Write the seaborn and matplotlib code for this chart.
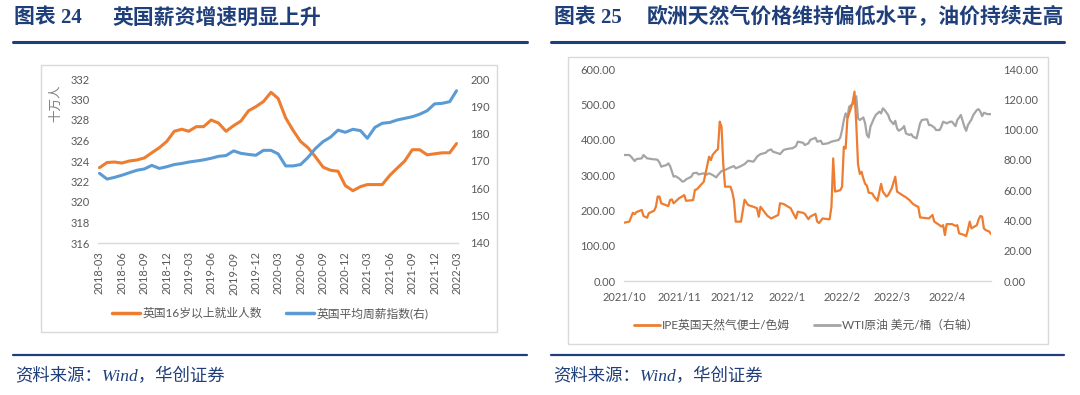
import pandas as pd
import matplotlib.pyplot as plt
import seaborn as sns
from matplotlib.lines import Line2D
from matplotlib.patches import Rectangle

# 图表24：英国就业人数 / 平均周薪指数（月度，2018-03 ~ 2022-03）
months = pd.date_range("2018-03-01", "2022-03-01", freq="MS")
employment = [323.35, 323.85, 323.9, 323.8, 324.0, 324.1, 324.3, 324.8, 325.3, 325.9,
              326.9, 327.1, 326.9, 327.35, 327.35, 328.0, 327.7, 326.9, 327.45, 327.9,
              328.9, 329.3, 329.8, 330.7, 330.1, 328.2, 327.0, 325.9, 325.3, 324.4,
              323.4, 323.1, 323.0, 321.6, 321.1, 321.5, 321.7, 321.7, 321.7, 322.6,
              323.3, 324.0, 325.1, 325.1, 324.6, 324.7, 324.8, 324.8, 325.7]
wage_index = [165.5, 163.4, 164.0, 164.8, 165.7, 166.6, 167.1, 168.4, 167.3, 167.9,
              168.7, 169.1, 169.6, 170.0, 170.4, 171.0, 171.7, 172.0, 173.7, 172.8,
              172.4, 172.1, 173.9, 173.9, 172.6, 168.2, 168.2, 168.7, 171.3, 174.6,
              177.1, 178.7, 181.3, 180.5, 181.6, 181.1, 178.3, 182.3, 183.8, 184.1,
              185.0, 185.6, 186.2, 187.1, 188.4, 190.9, 191.1, 191.7, 195.7]

# 图表25：IPE英国天然气（便士/色姆）与 WTI 原油（美元/桶）
gas_dates = ["2021-10-01", "2021-10-04", "2021-10-06", "2021-10-07", "2021-10-08", "2021-10-11",
             "2021-10-12", "2021-10-14", "2021-10-15", "2021-10-18", "2021-10-19", "2021-10-20",
             "2021-10-21", "2021-10-22", "2021-10-26", "2021-10-27", "2021-10-28", "2021-10-29",
             "2021-11-01", "2021-11-04", "2021-11-05", "2021-11-09", "2021-11-10", "2021-11-11",
             "2021-11-15", "2021-11-16", "2021-11-17", "2021-11-18", "2021-11-19", "2021-11-20",
             "2021-11-22", "2021-11-23", "2021-11-24", "2021-11-25", "2021-11-26", "2021-11-27",
             "2021-11-30", "2021-12-01", "2021-12-02", "2021-12-03", "2021-12-06", "2021-12-07",
             "2021-12-08", "2021-12-10", "2021-12-13", "2021-12-15", "2021-12-16", "2021-12-17",
             "2021-12-20", "2021-12-21", "2021-12-23", "2021-12-27", "2021-12-28", "2021-12-30",
             "2021-12-31", "2022-01-03", "2022-01-04", "2022-01-06", "2022-01-07", "2022-01-10",
             "2022-01-11", "2022-01-13", "2022-01-14", "2022-01-17", "2022-01-18", "2022-01-19",
             "2022-01-21", "2022-01-24", "2022-01-25", "2022-01-26", "2022-01-27", "2022-01-28",
             "2022-01-31", "2022-02-01", "2022-02-02", "2022-02-03", "2022-02-04", "2022-02-07",
             "2022-02-08", "2022-02-09", "2022-02-10", "2022-02-11", "2022-02-12", "2022-02-13",
             "2022-02-14", "2022-02-15", "2022-02-16", "2022-02-18", "2022-02-19", "2022-02-21",
             "2022-02-23", "2022-02-24", "2022-02-26", "2022-02-27", "2022-03-01", "2022-03-03",
             "2022-03-04", "2022-03-07", "2022-03-09", "2022-03-11", "2022-03-13", "2022-03-15",
             "2022-03-16", "2022-03-17", "2022-03-22", "2022-03-24", "2022-03-25", "2022-03-28",
             "2022-03-29", "2022-03-30", "2022-03-31", "2022-04-01", "2022-04-04", "2022-04-06",
             "2022-04-07", "2022-04-08", "2022-04-11", "2022-04-12", "2022-04-13", "2022-04-14",
             "2022-04-15", "2022-04-18", "2022-04-19", "2022-04-20", "2022-04-21", "2022-04-22",
             "2022-04-23", "2022-04-25", "2022-04-26"]
gas_prices = [165, 168, 193, 189, 195, 201, 184, 179, 192, 199, 210, 239,
              239, 220, 212, 229, 231, 220, 234, 243, 227, 229, 258, 259,
              281, 305, 328, 352, 342, 357, 369, 373, 451, 437, 330, 267,
              267, 253, 229, 168, 168, 200, 230, 215, 210, 206, 182, 210,
              190, 184, 177, 187, 220, 218, 215, 206, 196, 177, 196, 193,
              190, 175, 182, 190, 168, 164, 177, 175, 175, 210, 347, 253,
              257, 267, 380, 375, 459, 506, 536, 446, 330, 303, 309, 290,
              275, 270, 250, 248, 239, 227, 275, 253, 239, 243, 262, 295,
              253, 243, 237, 229, 218, 212, 210, 180, 177, 187, 168, 158,
              154, 158, 130, 161, 161, 156, 158, 135, 130, 127, 146, 168,
              149, 158, 174, 184, 182, 149, 144, 140, 133]

wti_dates = ["2021-10-01", "2021-10-04", "2021-10-05", "2021-10-07", "2021-10-08", "2021-10-11",
             "2021-10-12", "2021-10-14", "2021-10-18", "2021-10-19", "2021-10-20", "2021-10-21",
             "2021-10-22", "2021-10-25", "2021-10-26", "2021-10-27", "2021-10-29", "2021-10-30",
             "2021-11-01", "2021-11-03", "2021-11-04", "2021-11-05", "2021-11-08", "2021-11-09",
             "2021-11-11", "2021-11-12", "2021-11-15", "2021-11-16", "2021-11-18", "2021-11-20",
             "2021-11-22", "2021-11-23", "2021-11-25", "2021-11-27", "2021-11-30", "2021-12-02",
             "2021-12-03", "2021-12-06", "2021-12-08", "2021-12-10", "2021-12-13", "2021-12-14",
             "2021-12-15", "2021-12-17", "2021-12-20", "2021-12-21", "2021-12-23", "2021-12-24",
             "2021-12-27", "2021-12-28", "2021-12-30", "2021-12-31", "2022-01-03", "2022-01-04",
             "2022-01-06", "2022-01-07", "2022-01-10", "2022-01-11", "2022-01-13", "2022-01-14",
             "2022-01-17", "2022-01-18", "2022-01-20", "2022-01-21", "2022-01-24", "2022-01-26",
             "2022-01-28", "2022-01-30", "2022-01-31", "2022-02-01", "2022-02-02", "2022-02-03",
             "2022-02-04", "2022-02-05", "2022-02-07", "2022-02-08", "2022-02-09", "2022-02-10",
             "2022-02-11", "2022-02-13", "2022-02-14", "2022-02-15", "2022-02-16", "2022-02-17",
             "2022-02-19", "2022-02-20", "2022-02-22", "2022-02-23", "2022-02-24", "2022-02-25",
             "2022-02-27", "2022-02-28", "2022-03-02", "2022-03-03", "2022-03-04", "2022-03-05",
             "2022-03-07", "2022-03-08", "2022-03-09", "2022-03-11", "2022-03-12", "2022-03-13",
             "2022-03-15", "2022-03-17", "2022-03-18", "2022-03-20", "2022-03-21", "2022-03-22",
             "2022-03-23", "2022-03-25", "2022-03-26", "2022-03-28", "2022-03-29", "2022-03-30",
             "2022-04-01", "2022-04-03", "2022-04-04", "2022-04-06", "2022-04-07", "2022-04-09",
             "2022-04-10", "2022-04-11", "2022-04-12", "2022-04-13", "2022-04-15", "2022-04-16",
             "2022-04-18", "2022-04-19", "2022-04-20", "2022-04-21", "2022-04-22", "2022-04-24",
             "2022-04-26"]
wti_prices = [83.2, 83.2, 82.1, 79.2, 80.5, 81.0, 83.2, 81.0, 80.3, 80.3, 79.9, 78.3,
              75.5, 76.6, 77.7, 75.9, 68.9, 69.3, 67.8, 65.6, 66.0, 67.1, 68.9, 71.1,
              71.5, 70.4, 71.1, 70.0, 71.1, 70.0, 68.4, 70.0, 72.6, 73.3, 75.0, 75.9,
              74.4, 75.9, 77.2, 79.4, 78.8, 80.3, 82.1, 83.8, 84.7, 86.0, 86.9, 85.4,
              84.3, 83.8, 86.5, 86.9, 87.6, 87.6, 89.1, 92.0, 91.3, 89.8, 90.9, 93.1,
              94.6, 92.0, 92.6, 90.4, 90.9, 92.0, 92.6, 93.1, 94.8, 99.7, 106.3, 110.7,
              108.0, 115.1, 116.8, 117.7, 122.0, 107.4, 106.3, 108.0, 104.1, 96.4, 94.8, 101.9,
              107.4, 109.6, 111.8, 110.7, 114.0, 112.9, 109.6, 106.3, 103.6, 105.8, 100.8, 99.2,
              100.8, 102.3, 97.5, 96.4, 97.0, 95.3, 94.2, 104.1, 106.3, 106.7, 106.7, 103.0,
              103.0, 101.4, 99.7, 99.7, 101.9, 105.2, 104.1, 105.2, 105.2, 102.3, 106.3, 109.6,
              105.8, 101.9, 99.2, 103.0, 106.7, 109.6, 112.9, 113.5, 111.8, 108.9, 111.1, 110.2,
              110.2]

ORANGE = "#ED7D31"
BLUE = "#5B9BD5"
GRAY = "#A5A5A5"
NAVY = "#1F3F7A"
TXT = "#595959"
BOX = "#D9D9D9"

sns.set_theme(style="white")
plt.rcParams["font.family"] = ["Lato", "Noto Sans CJK SC", "DejaVu Sans"]
plt.rcParams["axes.unicode_minus"] = False

W, H = 1080, 395
fig = plt.figure(figsize=(W / 100, H / 100), dpi=100)


def fx(px):
    return px / W


def fy(py):
    return 1 - py / H


def style_axes(ax, ax_r):
    for s in ax.spines.values():
        s.set_visible(False)
    for s in ax_r.spines.values():
        s.set_visible(False)
    ax.spines["bottom"].set_visible(True)
    ax.spines["bottom"].set_color(BOX)
    ax.spines["bottom"].set_linewidth(1.0)
    ax.set_xlabel("")
    ax.set_ylabel("")
    ax_r.set_ylabel("")
    ax.grid(False)
    ax_r.grid(False)
    ax.tick_params(axis="x", length=4, color=BOX, colors=TXT, labelsize=8, direction="out")
    ax.tick_params(axis="y", length=0, colors=TXT, labelsize=8, pad=6)
    ax_r.tick_params(axis="y", length=0, colors=TXT, labelsize=8, pad=9)
    for lab in ax.get_xticklabels():
        lab.set_color(TXT)


# ---------- 左图 ----------
uk = pd.DataFrame({"month": months, "emp": employment, "wage": wage_index})
ax1 = fig.add_axes([fx(98), fy(243), fx(458) - fx(98), fy(79) - fy(243)])
sns.lineplot(data=uk, x="month", y="emp", ax=ax1, color=ORANGE, linewidth=2.2, legend=False)
ax1r = ax1.twinx()
sns.lineplot(data=uk, x="month", y="wage", ax=ax1r, color=BLUE, linewidth=2.2, legend=False)
ax1.set_ylim(316, 332)
ax1.set_yticks(range(316, 333, 2))
ax1r.set_ylim(140, 200)
ax1r.set_yticks(range(140, 201, 10))
ax1.set_xlim(months[0] - pd.Timedelta(days=6), months[-1] + pd.Timedelta(days=6))
ax1.set_xticks(months[::3])
ax1.set_xticklabels([m.strftime("%Y-%m") for m in months[::3]], rotation=90)
style_axes(ax1, ax1r)
ax1.tick_params(axis="x", pad=2)

fig.text(fx(55), fy(103), "十万人", rotation=90, fontsize=9, color="#7F7F7F",
         ha="center", va="center")

fig.legend(handles=[Line2D([], [], color=ORANGE, lw=2.5), Line2D([], [], color=BLUE, lw=2.5)],
           labels=["英国16岁以上就业人数", "英国平均周薪指数(右)"],
           loc="center", bbox_to_anchor=(fx(270), fy(313)), ncol=2, frameon=False,
           fontsize=8.5, handlelength=2.4, handletextpad=0.2, columnspacing=2.0,
           labelcolor=TXT)

# ---------- 右图 ----------
gas = pd.DataFrame({"date": pd.to_datetime(gas_dates), "price": gas_prices})
wti = pd.DataFrame({"date": pd.to_datetime(wti_dates), "price": wti_prices})
ax2 = fig.add_axes([fx(624), fy(281), fx(991) - fx(624), fy(69) - fy(281)])
sns.lineplot(data=gas, x="date", y="price", ax=ax2, color=ORANGE, linewidth=1.6, legend=False)
ax2r = ax2.twinx()
sns.lineplot(data=wti, x="date", y="price", ax=ax2r, color=GRAY, linewidth=1.6, legend=False)
ax2.set_zorder(ax2r.get_zorder() + 1)
ax2.patch.set_visible(False)
ax2.set_ylim(0, 600)
ax2.set_yticks(range(0, 601, 100))
ax2.set_yticklabels([f"{v:.2f}" for v in range(0, 601, 100)])
ax2r.set_ylim(0, 140)
ax2r.set_yticks(range(0, 141, 20))
ax2r.set_yticklabels([f"{v:.2f}" for v in range(0, 141, 20)])
month_ticks = pd.date_range("2021-10-01", "2022-04-01", freq="MS")
ax2.set_xlim(pd.Timestamp("2021-10-01"), pd.Timestamp("2022-04-26"))
ax2.set_xticks(month_ticks)
ax2.set_xticklabels([f"{d.year}/{d.month}" for d in month_ticks])
style_axes(ax2, ax2r)
ax2.tick_params(axis="x", pad=4)

fig.legend(handles=[Line2D([], [], color=ORANGE, lw=2.0), Line2D([], [], color=GRAY, lw=2.0)],
           labels=["IPE英国天然气便士/色姆", "WTI原油 美元/桶（右轴）"],
           loc="center", bbox_to_anchor=(fx(806), fy(325)), ncol=2, frameon=False,
           fontsize=8.5, handlelength=2.2, handletextpad=0.2, columnspacing=2.0,
           labelcolor=TXT)

# ---------- 边框、标题、来源 ----------
for x0, y0, x1, y1 in [(41, 65, 497, 332), (568, 57, 1048, 344)]:
    fig.patches.append(Rectangle((fx(x0), fy(y1)), fx(x1) - fx(x0), fy(y0) - fy(y1),
                                 transform=fig.transFigure, fill=False,
                                 edgecolor=BOX, linewidth=1.0))

for x0, x1 in [(13, 527), (551, 1064)]:
    fig.add_artist(Line2D([fx(x0), fx(x1)], [fy(42), fy(42)], color=NAVY, lw=2.2,
                          transform=fig.transFigure))
    fig.add_artist(Line2D([fx(x0), fx(x1)], [fy(355), fy(355)], color=NAVY, lw=1.6,
                          transform=fig.transFigure))

title_font = ["Liberation Serif", "Noto Sans CJK SC"]
fig.text(fx(14), fy(18), "图表 24", fontsize=15, fontweight="bold", color=NAVY,
         family=title_font, va="center")
fig.text(fx(112), fy(18), "英国薪资增速明显上升", fontsize=15, fontweight="bold",
         color=NAVY, family=title_font, va="center")
fig.text(fx(554), fy(18), "图表 25", fontsize=15, fontweight="bold", color=NAVY,
         family=title_font, va="center")
fig.text(fx(647), fy(18), "欧洲天然气价格维持偏低水平，油价持续走高", fontsize=15,
         fontweight="bold", color=NAVY, family=title_font, va="center")

for x0 in [15, 553]:
    fig.text(fx(x0), fy(377), "资料来源：Wind，华创证券", fontsize=12.5, style="italic",
             color=NAVY, family=title_font, va="center")

fig.savefig("out.png", dpi=100)
